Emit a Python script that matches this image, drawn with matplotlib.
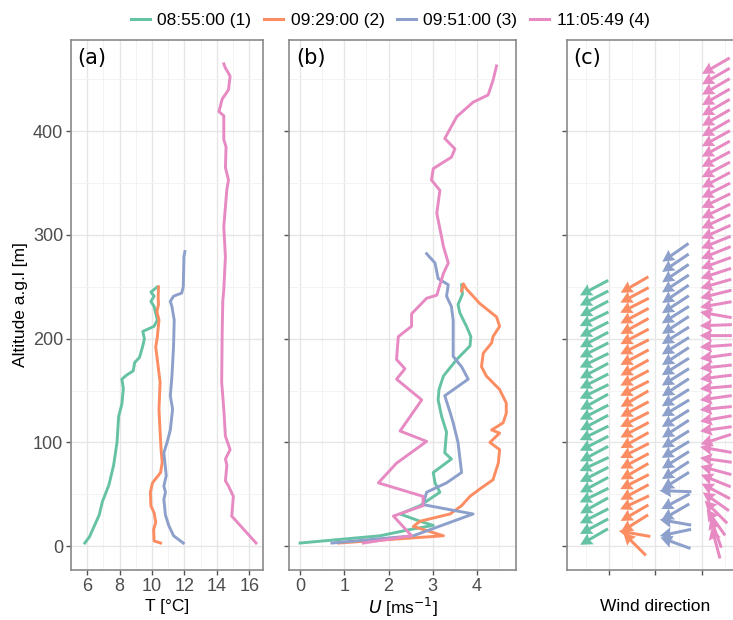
import numpy as np
import matplotlib
matplotlib.use("Agg")
import matplotlib.pyplot as plt
from matplotlib.lines import Line2D

# series names and colours (Set2)
labels = ["08:55:00 (1)", "09:29:00 (2)", "09:51:00 (3)", "11:05:49 (4)"]
colors = ["#66C2A5", "#FC8D62", "#8DA0CB", "#E78AC3"]

# (a) temperature profiles: T [degC], altitude [m]
t1_val = [5.85, 6.14, 6.74, 6.94, 7.34, 7.63, 7.84, 7.94, 8.14, 8.23, 8.14, 8.44, 8.84, 8.93, 9.23, 9.43,
          9.53, 9.43, 10.13, 10.33, 10.13, 9.93, 10.13, 9.93, 10.33]
t1_alt = [3, 9, 30, 43, 59, 78, 100, 125, 137, 152, 161, 165, 169, 177, 182, 193,
          200, 207, 212, 218, 231, 236, 241, 245, 250]
t2_val = [10.53, 10.13, 10.1, 10.23, 10.13, 9.93, 9.9, 10.03, 10.53, 10.63, 10.56, 10.5, 10.43, 10.5,
          10.38, 10.23, 10.33, 10.43, 10.3, 10.4, 10.38, 10.4]
t2_alt = [3, 5, 16, 23, 32, 39, 52, 61, 71, 81, 93, 110, 132, 158,
          173, 192, 202, 218, 226, 233, 240, 250]
t3_val = [11.93, 11.33, 11.03, 10.83, 10.73, 10.83, 10.73, 10.88, 10.73, 10.93, 11.13, 11.27, 11.13,
          11.23, 11.33, 11.37, 11.23, 11.13, 11.33, 11.83, 11.93, 11.97, 12.03]
t3_alt = [3, 10, 20, 30, 45, 52, 58, 68, 90, 100, 112, 132, 145,
          164, 193, 218, 231, 236, 241, 244, 250, 279, 284]
t4_val = [16.42, 14.92, 15.02, 14.72, 14.53, 14.62, 14.53, 14.82, 14.53, 14.43, 14.3, 14.33, 14.37,
          14.43, 14.53, 14.43, 14.62, 14.72, 14.53, 14.57, 14.43, 14.43, 14.13, 14.33, 14.72, 14.82,
          14.72, 14.53, 14.43]
t4_alt = [3, 29, 48, 58, 63, 78, 84, 93, 106, 132, 158, 206, 237,
          247, 279, 308, 344, 353, 365, 385, 392, 415, 419, 431, 440, 453,
          456, 461, 465]

# (b) wind speed profiles: U [m/s], altitude [m]
u1_val = [0.0, 1.81, 2.48, 3.01, 2.71, 2.26, 2.71, 3.16, 3.05, 3.01, 3.42, 3.27, 3.31, 3.2, 3.12, 3.14,
          3.24, 3.54, 3.84, 3.86, 3.76, 3.61, 3.57, 3.67, 3.65]
u1_alt = [3, 10, 16, 20, 24, 31, 39, 52, 61, 71, 84, 90, 110, 125, 141, 151,
          164, 180, 193, 202, 212, 225, 233, 243, 252]
u2_val = [0.87, 3.24, 2.56, 2.71, 3.39, 3.65, 3.84, 4.06, 4.36, 4.48, 4.51, 4.29, 4.51, 4.33, 4.59, 4.66,
          4.66, 4.51, 4.21, 4.1, 4.14, 4.33, 4.36, 4.51, 4.44, 4.06, 3.76, 3.69, 3.65]
u2_alt = [3, 10, 19, 24, 31, 39, 48, 55, 64, 80, 93, 100, 109, 112, 119, 128,
          138, 151, 164, 173, 186, 196, 202, 212, 221, 234, 248, 253, 246]
u3_val = [0.72, 2.56, 3.91, 2.78, 2.86, 3.31, 3.65, 3.57, 3.46, 3.39, 3.27, 3.8, 3.65, 3.46, 3.46, 3.42,
          3.31, 3.35, 3.12, 3.05, 2.86]
u3_alt = [3, 10, 31, 40, 52, 61, 71, 100, 119, 129, 145, 161, 173, 183, 218, 231,
          241, 252, 258, 273, 282]
u4_val = [1.43, 2.52, 2.11, 2.78, 2.78, 1.77, 2.18, 2.86, 2.26, 2.75, 2.18, 2.37, 2.18, 2.22, 2.52, 2.52,
          2.86, 3.09, 3.24, 3.35, 3.24, 3.09, 3.16, 2.97, 3.01, 3.42, 3.5, 3.27, 3.54, 3.91, 4.25,
          4.36, 4.44]
u4_alt = [3, 10, 29, 39, 48, 61, 80, 101, 111, 141, 161, 171, 180, 202, 212, 224,
          239, 242, 263, 273, 289, 321, 343, 353, 364, 375, 383, 393, 414, 428, 435,
          449, 463]

# (c) wind direction (degrees, direction the wind comes from) at altitude [m]
d1_alt = [9, 19, 29, 39, 49, 59, 69, 79, 89, 99, 109, 119, 129, 139, 149, 159, 169, 179, 189, 199,
          209, 219, 229, 239, 249]
d1_dir = [60, 62, 63, 61, 64, 62, 63, 65, 62, 63, 64, 62, 63, 61, 64, 63, 62, 64, 63, 62,
          63, 64, 62, 63, 62]
d2_alt = [2, 12, 22, 32, 42, 52, 62, 72, 82, 92, 102, 112, 122, 132, 142, 152, 162, 172, 182, 192,
          202, 212, 222, 232, 242, 252]
d2_dir = [135, 100, 58, 60, 65, 62, 63, 60, 62, 63, 61, 62, 63, 62, 60, 63, 62, 61, 62, 63,
          62, 61, 62, 63, 62, 60]
d3_alt = [3, 13, 23, 33, 43, 53, 63, 73, 83, 93, 103, 113, 123, 133, 143, 153, 163, 173, 183, 193,
          203, 213, 223, 233, 243, 253, 263, 273, 283]
d3_dir = [110, 78, 100, 60, 62, 92, 58, 57, 58, 59, 58, 57, 58, 59, 58, 57, 58, 58, 57, 58,
          58, 57, 58, 57, 56, 57, 56, 56, 55]
d4_alt = [3, 13, 23, 33, 43, 53, 63, 73, 83, 93, 103, 113, 123, 133, 143, 153, 163, 173, 183, 193,
          203, 213, 223, 233, 243, 253, 263, 273, 283, 293, 303, 313, 323, 333, 343, 353, 363, 373,
          383, 393, 403, 413, 423, 433, 443, 453, 463]
d4_dir = [165, 160, 145, 135, 125, 118, 112, 105, 98, 100, 72, 82, 80, 84, 82, 85, 83, 84, 82, 86,
          90, 88, 100, 80, 76, 74, 72, 70, 68, 68, 66, 65, 64, 64, 63, 62, 62, 62,
          61, 61, 60, 60, 60, 60, 60, 60, 60]
d_col = [0.68, 1.55, 2.43, 3.30]

plt.rcParams['font.family'] = ['Liberation Sans', 'DejaVu Sans']

fig = plt.figure(figsize=(7.33, 6.2), dpi=100)
H = 620.0
W = 733.0
def box(x0, x1, y0, y1):
    return [x0 / W, 1 - y1 / H, (x1 - x0) / W, (y1 - y0) / H]

ax_a = fig.add_axes(box(71, 263, 40, 570))
ax_b = fig.add_axes(box(289, 516, 40, 570))
ax_c = fig.add_axes(box(567, 760, 40, 570))

ylim = (-23, 488)
grid_major = "#E6E6E6"
grid_minor = "#F3F3F3"
tick_col = "#4D4D4D"

for ax in (ax_a, ax_b, ax_c):
    ax.set_ylim(*ylim)
    ax.set_yticks([0, 100, 200, 300, 400])
    ax.set_yticks([50, 150, 250, 350, 450], minor=True)
    ax.grid(True, which="major", color=grid_major, lw=1.0)
    ax.grid(True, which="minor", color=grid_minor, lw=0.7)
    ax.set_axisbelow(True)
    for s in ax.spines.values():
        s.set_color("#8a8a8a")
        s.set_linewidth(1.2)
    ax.tick_params(which="major", length=3.5, width=1, color="#555555",
                   labelcolor=tick_col, labelsize=13, pad=2)
    ax.tick_params(which="minor", length=0)

# (a)
for v, a, c in zip([t1_val, t2_val, t3_val, t4_val], [t1_alt, t2_alt, t3_alt, t4_alt], colors):
    ax_a.plot(v, a, color=c, lw=2.1, solid_joinstyle="round")
ax_a.set_xlim(5.35, 16.85)
ax_a.set_xticks([6, 8, 10, 12, 14, 16])
ax_a.set_xticks([5, 7, 9, 11, 13, 15], minor=True)
ax_a.set_xlabel("T [°C]", fontsize=12.5, labelpad=3)
ax_a.set_ylabel("Altitude a.g.l [m]", fontsize=12.5, labelpad=4)

# (b)
for v, a, c in zip([u1_val, u2_val, u3_val, u4_val], [u1_alt, u2_alt, u3_alt, u4_alt], colors):
    ax_b.plot(v, a, color=c, lw=2.1, solid_joinstyle="round")
ax_b.set_xlim(-0.25, 4.88)
ax_b.set_xticks([0, 1, 2, 3, 4])
ax_b.set_xticks([0.5, 1.5, 2.5, 3.5, 4.5], minor=True)
ax_b.set_yticklabels([])
ax_b.set_xlabel(r"$U$ [ms$^{-1}$]", fontsize=12.5, labelpad=1)

# (c) wind direction arrows, centred on each column at each altitude
ax_c.set_xlim(0.097, 4.25)
ax_c.set_xticks([1, 2, 3])
ax_c.set_xticks([0.5, 1.5, 2.5, 3.5], minor=True)
ax_c.set_xticklabels([])
ax_c.set_yticklabels([])
ax_c.set_xlabel("Wind direction", fontsize=12.5)
ax_c.xaxis.set_label_coords(0.456, -0.055)

arrow_len = 0.32  # inches on screen
for xc, alts, dirs, c in zip(d_col, [d1_alt, d2_alt, d3_alt, d4_alt],
                             [d1_dir, d2_dir, d3_dir, d4_dir], colors):
    to = np.deg2rad(np.array(dirs) + 180)
    uu = np.sin(to) * arrow_len
    vv = np.cos(to) * arrow_len
    ax_c.quiver(np.full(len(alts), xc), alts, uu, vv, color=c,
                angles="uv", scale_units="inches", scale=1, pivot="middle",
                units="dots", width=3.0, headwidth=4.2, headlength=4.0,
                headaxislength=3.6, clip_on=False)

# panel letters
for ax, t in zip((ax_a, ax_b, ax_c), ("(a)", "(b)", "(c)")):
    ax.text(0.03, 0.985, t, transform=ax.transAxes, ha="left", va="top",
            fontsize=15, family="DejaVu Sans", color="black")

# legend on top
handles = [Line2D([0], [0], color=c, lw=2.2) for c in colors]
fig.legend(handles, labels, loc="center", bbox_to_anchor=(0.532, 0.967), ncol=4,
           frameon=False, fontsize=12.5, handlelength=1.1, handletextpad=0.45,
           columnspacing=0.7)

fig.savefig("out.png", dpi=100)
